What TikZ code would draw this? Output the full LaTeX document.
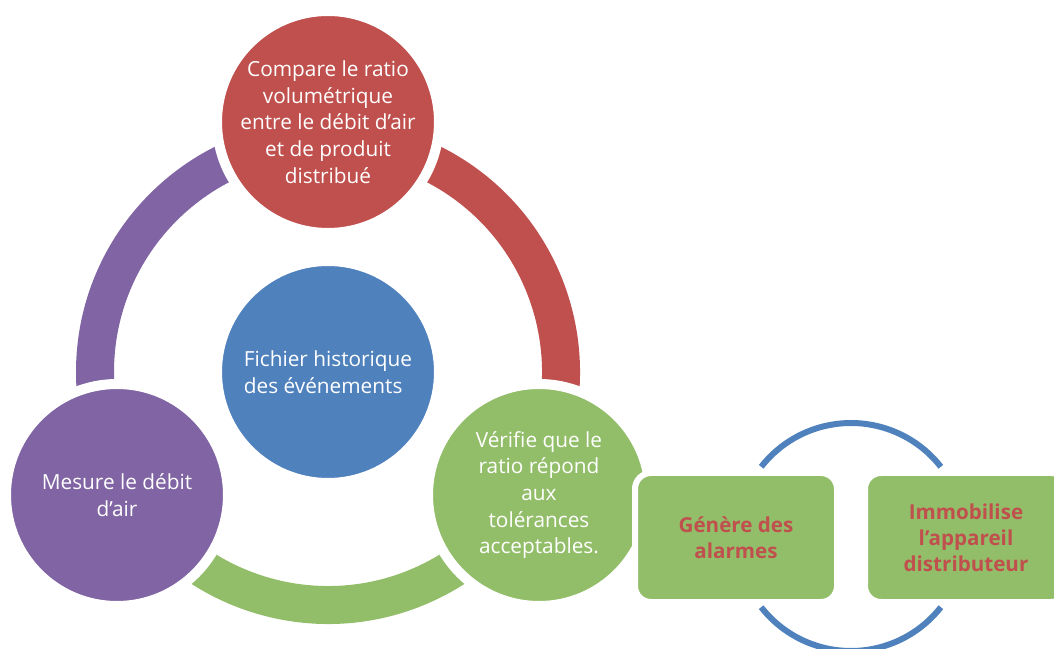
\documentclass[tikz,border=0pt]{standalone}
\usepackage{fontspec}
\setmainfont{Open Sans}
\definecolor{cred}{HTML}{C0504D}
\definecolor{cpurple}{HTML}{8064A3}
\definecolor{cgreen}{HTML}{93BE69}
\definecolor{cblue}{HTML}{4F81BD}
\begin{document}
\begin{tikzpicture}[x=1pt,y=1pt,
  bubble/.style={circle, draw=white, line width=10pt, minimum size=222pt, inner sep=0pt, text=white, align=center, font=\fontsize{20.8}{26.7}\selectfont},
  stepcard/.style={rectangle, rounded corners=16pt, draw=white, line width=6pt, minimum width=202pt, minimum height=129pt, inner sep=0pt, fill=cgreen, text=cred, align=center, font=\bfseries\fontsize{20.6}{25.8}\selectfont},
  ringseg/.style={line width=38pt},
  loopline/.style={cblue, line width=6pt}]
\useasboundingbox (0,0) rectangle (1054,648);
\clip (0,0) rectangle (1054,648);
% main ring
\coordinate (C) at (328,276);
\draw[ringseg, cpurple] (C) ++(90:233pt) arc[start angle=90, end angle=210, radius=233pt];
\draw[ringseg, cred] (C) ++(-30:233pt) arc[start angle=-30, end angle=90, radius=233pt];
\draw[ringseg, cgreen] (C) ++(210:233pt) arc[start angle=210, end angle=330, radius=233pt];
% circles
\node[bubble, fill=cred] (cmp) at (328,526) {Compare le ratio\\volumétrique\\entre le débit d’air\\et de produit\\distribué};
\node[bubble, fill=cpurple] (mes) at (117,153) {Mesure le débit\\d’air};
\node[bubble, fill=cgreen] (ver) at (539,153) {Vérifie que le\\ratio répond\\aux\\tolérances\\acceptables.};
\node[bubble, fill=cblue, align=left] (fic) at (C) {Fichier historique\\des événements};
% right loop
\coordinate (R) at (851,111);
\draw[loopline] (R) ++(38:114pt) arc[start angle=38, end angle=142, radius=114pt];
\draw[loopline] (R) ++(218:114pt) arc[start angle=218, end angle=322, radius=114pt];
\node[stepcard] (alm) at (736,110.5) {Génère des\\alarmes};
\node[stepcard] (imm) at (966,110.5) {Immobilise\\l’appareil\\distributeur};
\end{tikzpicture}
\end{document}
